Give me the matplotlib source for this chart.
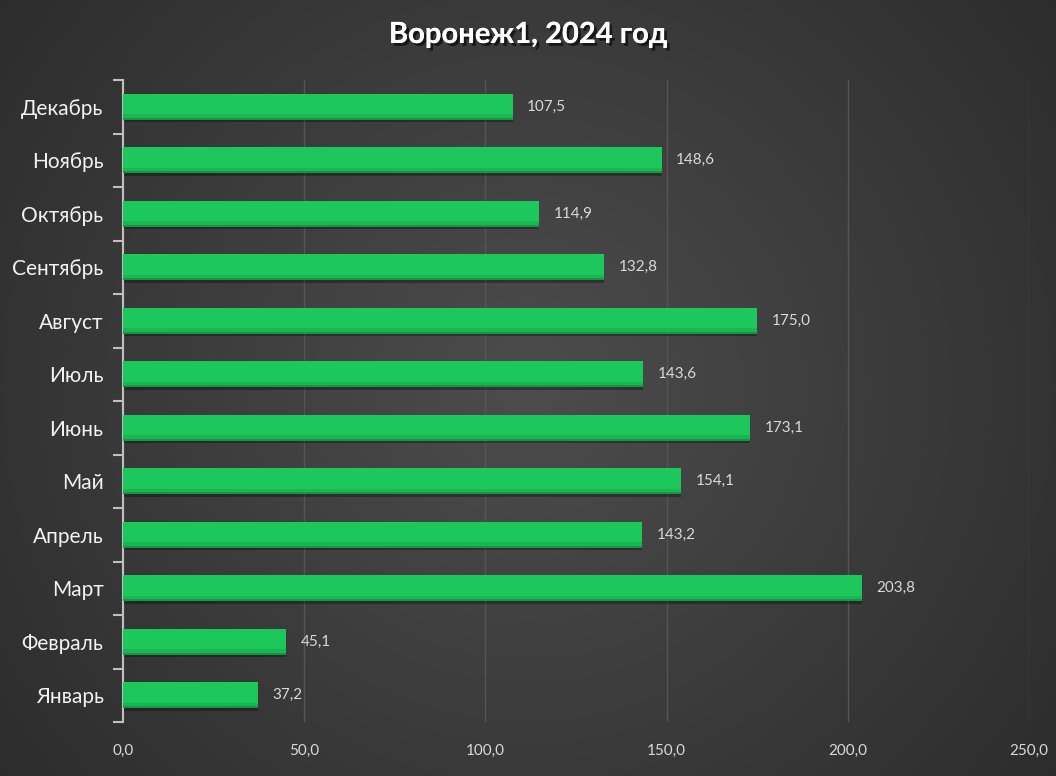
import numpy as np
from matplotlib import pyplot as plt
import matplotlib.patheffects as pe

months = ['Январь', 'Февраль', 'Март', 'Апрель', 'Май', 'Июнь',
          'Июль', 'Август', 'Сентябрь', 'Октябрь', 'Ноябрь', 'Декабрь']
values = [37.2, 45.1, 203.8, 143.2, 154.1, 173.1,
          143.6, 175.0, 132.8, 114.9, 148.6, 107.5]
xticks = [0, 50, 100, 150, 200, 250]

plt.rcParams['font.family'] = ['Lato', 'DejaVu Sans']

fig = plt.figure(figsize=(10.56, 7.76), dpi=100)
fig.patch.set_facecolor('#333333')

# radial gradient background, dark at the edges
bg = fig.add_axes([0, 0, 1, 1], zorder=-1)
yy, xx = np.mgrid[0:1:300j, 0:1:400j]
r = np.sqrt((xx - 0.5) ** 2 + ((yy - 0.5) * 0.75) ** 2) / 0.6
shade = np.clip(0.30 - 0.12 * r, 0.17, 0.30)
bg.imshow(np.dstack([shade] * 3), aspect='auto', extent=[0, 1, 0, 1])
bg.axis('off')

ax = fig.add_axes([123 / 1056, 1 - 722 / 776, (1029 - 123) / 1056, (722 - 80) / 776])
ax.patch.set_alpha(0)

y = np.arange(len(months))
# soft shadow under bars
ax.barh(y - 0.05, values, height=0.48, color='black', alpha=0.3, zorder=2)
ax.barh(y, values, height=0.48, color='#1cc75c', zorder=3)
ax.barh(y - 0.19, values, height=0.10, color='#17a94c', alpha=0.55, zorder=4)
ax.barh(y - 0.225, values, height=0.03, color='#128a3e', alpha=0.7, zorder=4)

for yi, v in zip(y, values):
    ax.text(v + 4, yi, f'{v:.1f}'.replace('.', ','), va='center', ha='left',
            color='#d9d9d9', fontsize=11)

ax.set_xlim(0, 250)
ax.set_ylim(-0.5, len(months) - 0.5)
ax.set_xticks(xticks)
ax.set_xticklabels([f'{t:.1f}'.replace('.', ',') for t in xticks],
                   color='#d9d9d9', fontsize=11)
ax.tick_params(axis='x', length=0, pad=16)
ax.set_yticks(y)
ax.set_yticklabels(months, color='#f2f2f2', fontsize=15)
ax.tick_params(axis='y', length=0, pad=14)
ax.set_yticks(np.arange(-0.5, len(months)), minor=True)
ax.tick_params(axis='y', which='minor', length=7, width=1.5, color='#bfbfbf')

ax.grid(axis='x', color='#555555', linewidth=1, zorder=0)
ax.set_axisbelow(True)
for s in ['top', 'right', 'bottom']:
    ax.spines[s].set_visible(False)
ax.spines['left'].set_color('#bfbfbf')
ax.spines['left'].set_linewidth(1.5)

fig.text(0.5, 1 - 35 / 776, 'Воронеж1, 2024 год', ha='center', va='center',
         color='white', fontsize=21, fontweight='bold',
         path_effects=[pe.withSimplePatchShadow(offset=(2, -2), shadow_rgbFace='black', alpha=0.6),
                       pe.Normal()])

plt.savefig('out.png', dpi=100, facecolor=fig.get_facecolor())
